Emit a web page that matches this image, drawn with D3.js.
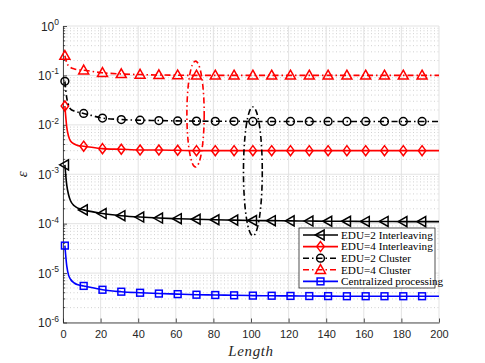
<!DOCTYPE html>
<html>
<head>
<meta charset="utf-8">
<script src="https://cdn.jsdelivr.net/npm/d3@7"></script>
<style>
  body { margin: 0; background: #fff; }
  svg { display: block; }
</style>
</head>
<body>
<div id="chart"></div>
<script>
// sample points along Length; markers sit on 1, 11, 21, ...
const lengthPts = [1, 2, 3, 4, 6, 8, 11, 21, 31, 41, 51, 61, 71, 81, 91, 101, 111, 121, 131, 141, 151, 161, 171, 181, 191, 200];

const edu2Inter = [1.55e-3, 6e-4, 3.8e-4, 2.9e-4, 2.3e-4, 2.05e-4, 1.9e-4, 1.6e-4, 1.45e-4, 1.36e-4, 1.3e-4, 1.26e-4, 1.23e-4, 1.2e-4, 1.18e-4, 1.16e-4, 1.15e-4, 1.14e-4, 1.13e-4, 1.12e-4, 1.12e-4, 1.11e-4, 1.11e-4, 1.1e-4, 1.1e-4, 1.1e-4];
const edu4Inter = [0.024, 0.009, 0.0058, 0.0047, 0.0041, 0.0038, 0.0037, 0.0033, 0.0032, 0.0031, 0.0031, 0.00305, 0.003, 0.003, 0.003, 0.003, 0.003, 0.003, 0.003, 0.003, 0.003, 0.003, 0.003, 0.003, 0.003, 0.003];
const edu2Clus = [0.076, 0.035, 0.025, 0.021, 0.019, 0.018, 0.017, 0.0137, 0.0128, 0.0124, 0.0122, 0.012, 0.0119, 0.0118, 0.0118, 0.0117, 0.0117, 0.0117, 0.0117, 0.0117, 0.0117, 0.0117, 0.0117, 0.0117, 0.0117, 0.0117];
const edu4Clus = [0.25, 0.18, 0.155, 0.145, 0.135, 0.13, 0.127, 0.113, 0.107, 0.104, 0.102, 0.101, 0.1, 0.1, 0.1, 0.1, 0.1, 0.1, 0.1, 0.1, 0.1, 0.1, 0.1, 0.1, 0.1, 0.1];
const central = [3.6e-5, 1.4e-5, 9e-6, 7.5e-6, 6.3e-6, 5.8e-6, 5.5e-6, 4.6e-6, 4.2e-6, 4.0e-6, 3.85e-6, 3.75e-6, 3.65e-6, 3.6e-6, 3.55e-6, 3.5e-6, 3.48e-6, 3.45e-6, 3.43e-6, 3.42e-6, 3.4e-6, 3.4e-6, 3.4e-6, 3.4e-6, 3.4e-6, 3.4e-6];

const seriesNames = ["EDU=2 Interleaving", "EDU=4 Interleaving", "EDU=2 Cluster", "EDU=4 Cluster", "Centralized processing"];

const xTicks = [0, 20, 40, 60, 80, 100, 120, 140, 160, 180, 200];
const yExps = [0, -1, -2, -3, -4, -5, -6];

// ellipses: [center x, x half width, y top, y bottom]
const redEllipse = [70.5, 4.6, 0.195, 0.0014];
const blackEllipse = [101, 5, 0.023, 5.7e-5];

const width = 485, height = 363;
const margin = {left: 63, right: 46, top: 26, bottom: 40.5};

const svg = d3.select("#chart").append("svg")
  .attr("width", width)
  .attr("height", height);

const x = d3.scaleLinear().domain([0, 200]).range([margin.left, width - margin.right]);
const y = d3.scaleLog().domain([1e-6, 1]).range([height - margin.bottom, margin.top]);

const grid = svg.append("g");
// minor horizontal grid (dotted)
for (let e = -6; e < 0; e++) {
  for (let k = 2; k <= 9; k++) {
    grid.append("line")
      .attr("x1", x(0)).attr("x2", x(200))
      .attr("y1", y(k * Math.pow(10, e))).attr("y2", y(k * Math.pow(10, e)))
      .attr("stroke", "#bdbdbd").attr("stroke-width", 0.7)
      .attr("stroke-dasharray", "1,2.5");
  }
}
// major grid
grid.selectAll(".gx").data(xTicks).enter().append("line")
  .attr("x1", d => x(d)).attr("x2", d => x(d))
  .attr("y1", y(1)).attr("y2", y(1e-6))
  .attr("stroke", "#e0e0e0").attr("stroke-width", 0.9);
grid.selectAll(".gy").data(yExps).enter().append("line")
  .attr("x1", x(0)).attr("x2", x(200))
  .attr("y1", d => y(Math.pow(10, d))).attr("y2", d => y(Math.pow(10, d)))
  .attr("stroke", "#e0e0e0").attr("stroke-width", 0.9);

// axes
const axisColor = "#262626";
const xAxis = svg.append("g")
  .attr("transform", `translate(0,${y(1e-6)})`)
  .call(d3.axisBottom(x).tickValues(xTicks).tickSizeInner(-4).tickSizeOuter(0).tickPadding(8));
const yAxis = svg.append("g")
  .attr("transform", `translate(${x(0)},0)`)
  .call(d3.axisLeft(y).tickValues(yExps.map(e => Math.pow(10, e))).tickSizeInner(-4).tickSizeOuter(0).tickFormat(""));

[xAxis, yAxis].forEach(a => {
  a.select(".domain").attr("stroke", axisColor).attr("stroke-width", 0.8);
  a.selectAll(".tick line").attr("stroke", axisColor).attr("stroke-width", 0.8);
  a.selectAll("text").attr("fill", axisColor)
    .style("font-family", "'Liberation Sans', Arial, sans-serif").style("font-size", "11px");
});

// minor y ticks
const minorVals = [];
for (let e = -6; e < 0; e++) for (let k = 2; k <= 9; k++) minorVals.push(k * Math.pow(10, e));
svg.append("g").selectAll("line").data(minorVals).enter().append("line")
  .attr("x1", x(0)).attr("x2", x(0) + 2.2)
  .attr("y1", d => y(d)).attr("y2", d => y(d))
  .attr("stroke", axisColor).attr("stroke-width", 0.8);

// y tick labels 10^e
const yl = svg.append("g").selectAll("text").data(yExps).enter().append("text")
  .attr("x", x(0) - 4)
  .attr("y", d => y(Math.pow(10, d)) + 4.5)
  .attr("text-anchor", "end")
  .attr("fill", axisColor)
  .style("font-family", "'Liberation Sans', Arial, sans-serif")
  .style("font-size", "12px");
yl.append("tspan").text("10");
yl.append("tspan").attr("dy", -5.5).style("font-size", "8.5px").text(d => d);

// axis titles
svg.append("text")
  .attr("x", x(100)).attr("y", 356)
  .attr("text-anchor", "middle")
  .style("font-family", "'Liberation Serif', 'Times New Roman', serif")
  .style("font-style", "italic").style("font-size", "15px")
  .style("letter-spacing", "0.6px")
  .attr("fill", axisColor)
  .text("Length");
svg.append("text")
  .attr("transform", `translate(27,${y(1e-3)}) rotate(-90)`)
  .attr("text-anchor", "middle")
  .style("font-family", "'Liberation Serif', 'Times New Roman', serif")
  .style("font-style", "italic").style("font-size", "15px")
  .attr("fill", axisColor)
  .text("ε");

// series
const series = [
  {name: seriesNames[0], values: edu2Inter, color: "#000000", dash: null, marker: "triLeft"},
  {name: seriesNames[1], values: edu4Inter, color: "#ff0000", dash: null, marker: "diamond"},
  {name: seriesNames[2], values: edu2Clus, color: "#000000", dash: "6,3,1.5,3", marker: "circle"},
  {name: seriesNames[3], values: edu4Clus, color: "#ff0000", dash: "6,3,1.5,3", marker: "triUp"},
  {name: seriesNames[4], values: central, color: "#0000ff", dash: null, marker: "square"}
];

const line = d3.line()
  .x(d => x(d[0])).y(d => y(d[1]))
  .curve(d3.curveMonotoneX);

function drawMarker(g, type, cx, cy, color) {
  const s = 4.4;
  let el;
  if (type === "circle") {
    el = g.append("circle").attr("cx", cx).attr("cy", cy).attr("r", 3.9);
  } else if (type === "square") {
    el = g.append("rect").attr("x", cx - 3.4).attr("y", cy - 3.4).attr("width", 6.8).attr("height", 6.8);
  } else if (type === "diamond") {
    el = g.append("path").attr("d", `M${cx},${cy - 5}L${cx + 3.7},${cy}L${cx},${cy + 5}L${cx - 3.7},${cy}Z`);
  } else if (type === "triUp") {
    el = g.append("path").attr("d", `M${cx},${cy - s - 0.8}L${cx + s + 0.6},${cy + s - 0.8}L${cx - s - 0.6},${cy + s - 0.8}Z`);
  } else {
    el = g.append("path").attr("d", `M${cx - s - 0.8},${cy}L${cx + s - 0.8},${cy - s - 0.6}L${cx + s - 0.8},${cy + s + 0.6}Z`);
  }
  el.attr("fill", "none").attr("stroke", color).attr("stroke-width", 1.5);
}

const plot = svg.append("g");
series.forEach(s => {
  const pts = lengthPts.map((l, i) => [l, s.values[i]]);
  plot.append("path")
    .datum(pts)
    .attr("d", line)
    .attr("fill", "none")
    .attr("stroke", s.color)
    .attr("stroke-width", 1.6)
    .attr("stroke-dasharray", s.dash);
  pts.filter(p => (p[0] - 1) % 10 === 0).forEach(p => {
    drawMarker(plot, s.marker, x(p[0]), y(p[1]), s.color);
  });
});

// ellipses
function drawEllipse(e, color) {
  const cy = (y(e[2]) + y(e[3])) / 2;
  const ry = (y(e[3]) - y(e[2])) / 2;
  plot.append("ellipse")
    .attr("cx", x(e[0])).attr("cy", cy)
    .attr("rx", x(e[0] + e[1]) - x(e[0])).attr("ry", ry)
    .attr("fill", "none").attr("stroke", color)
    .attr("stroke-width", 1.6).attr("stroke-dasharray", "6,3,1.5,3");
}
drawEllipse(redEllipse, "#ff0000");
drawEllipse(blackEllipse, "#000000");

// legend
const lg = svg.append("g").attr("transform", "translate(299,228)");
lg.append("rect").attr("width", 136).attr("height", 60)
  .attr("fill", "#fff").attr("stroke", axisColor).attr("stroke-width", 0.8);
series.forEach((s, i) => {
  const ly = 7 + i * 11.6;
  lg.append("line")
    .attr("x1", 4).attr("x2", 39).attr("y1", ly).attr("y2", ly)
    .attr("stroke", s.color).attr("stroke-width", 1.6)
    .attr("stroke-dasharray", s.dash);
  drawMarker(lg, s.marker, 21.5, ly, s.color);
  lg.append("text")
    .attr("x", 42).attr("y", ly + 3.7)
    .style("font-family", "'Liberation Serif', 'Times New Roman', serif")
    .style("font-size", "11.2px")
    .attr("fill", "#000")
    .text(s.name);
});
</script>
</body>
</html>
